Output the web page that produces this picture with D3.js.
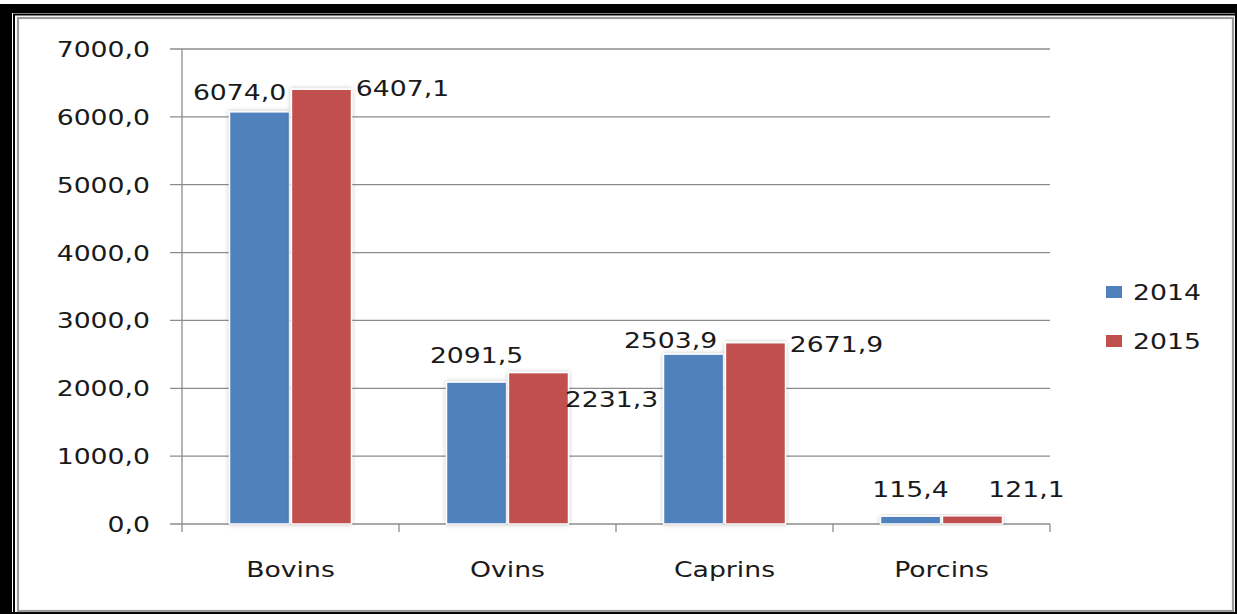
<!DOCTYPE html>
<html>
<head>
<meta charset="utf-8">
<script src="https://cdn.jsdelivr.net/npm/d3@7"></script>
<style>
  html, body { margin: 0; padding: 0; background: #fff; }
  svg { display: block; font-family: "DejaVu Sans", Verdana, sans-serif; }
</style>
</head>
<body>
<div id="chart"></div>
<script>
// Chart data
const categories = ["Bovins", "Ovins", "Caprins", "Porcins"];
const seriesNames = ["2014", "2015"];
const values2014 = [6074.0, 2091.5, 2503.9, 115.4];
const values2015 = [6407.1, 2231.3, 2671.9, 121.1];
const yTicks = [0, 1000, 2000, 3000, 4000, 5000, 6000, 7000];

// Manual label placement (offset from bar centre / bar top), as in the original
const LABEL_OFFSETS = {
  "2014": [[-20, -12], [0, -19], [-23, -6], [0, -19]],
  "2015": [[81, 7], [73, 34], [81, 9], [54, -19]],
};

const W = 1237, H = 614;
const COLORS = { "2014": "#4f81bd", "2015": "#c0504d" };
const STRETCH = 1.27; // the source image is stretched horizontally
const fmt = (v) => d3.format(".1f")(v).replace(".", ",");

const svg = d3.select("#chart").append("svg")
  .attr("width", W).attr("height", H)
  .attr("viewBox", `0 0 ${W} ${H}`);

const defs = svg.append("defs");
const shadow = defs.append("filter").attr("id", "shadow")
  .attr("x", "-20%").attr("y", "-20%").attr("width", "140%").attr("height", "140%");
shadow.append("feDropShadow")
  .attr("dx", 0).attr("dy", 0).attr("stdDeviation", 2)
  .attr("flood-color", "#000").attr("flood-opacity", 0.25);

svg.append("rect").attr("width", W).attr("height", H).attr("fill", "#fff");

// Page frame (document border)
svg.append("rect").attr("x", 0).attr("y", 4).attr("width", W).attr("height", 9).attr("fill", "#000");
svg.append("rect").attr("x", 0).attr("y", 4).attr("width", 12).attr("height", H - 4).attr("fill", "#000");
svg.append("rect").attr("x", W - 2).attr("y", 4).attr("width", 2).attr("height", H - 4).attr("fill", "#000");
svg.append("rect").attr("x", 0).attr("y", H - 2).attr("width", W).attr("height", 2).attr("fill", "#000");
svg.append("path").attr("d", `M14,${H} V14.5 H${W}`).attr("fill", "none").attr("stroke", "#000").attr("stroke-width", 2);
svg.append("rect").attr("x", 18).attr("y", 18).attr("width", 1215).attr("height", 593)
  .attr("fill", "none").attr("stroke", "#9a9a9a").attr("stroke-width", 2.2);

// Scales
const plot = { left: 182, right: 1050, top: 49, bottom: 524 };
const y = d3.scaleLinear().domain([0, 7000]).range([plot.bottom, plot.top]);
const x = d3.scaleBand().domain(categories).range([plot.left, plot.right]).padding(0);
const bw = x.bandwidth();
const x1 = d3.scaleBand().domain(seriesNames)
  .range([bw / 2 - 61, bw / 2 + 61]).paddingInner(0.03);

const axisColor = "#8c8c8c";
const textColor = "#1a1a1a";

// Gridlines and y ticks
svg.append("g").selectAll("line").data(yTicks).join("line")
  .attr("x1", plot.left - 12).attr("x2", plot.right)
  .attr("y1", (d) => y(d)).attr("y2", (d) => y(d))
  .attr("stroke", axisColor).attr("stroke-width", 1.3);

svg.append("line")
  .attr("x1", plot.left).attr("x2", plot.left)
  .attr("y1", plot.top).attr("y2", plot.bottom)
  .attr("stroke", axisColor).attr("stroke-width", 1.3);

// x ticks
const xTickPos = categories.map((c) => x(c)).concat([plot.right]);
svg.append("g").selectAll("line").data(xTickPos).join("line")
  .attr("x1", (d) => d).attr("x2", (d) => d)
  .attr("y1", plot.bottom).attr("y2", plot.bottom + 8)
  .attr("stroke", axisColor).attr("stroke-width", 1.3);

// y tick labels
svg.append("g").selectAll("text").data(yTicks).join("text")
  .attr("transform", (d) => `translate(150,${y(d) + 8}) scale(${STRETCH},1)`)
  .attr("text-anchor", "end")
  .attr("font-size", 21)
  .attr("fill", textColor)
  .text((d) => fmt(d));

// category labels
svg.append("g").selectAll("text").data(categories).join("text")
  .attr("transform", (d) => `translate(${x(d) + bw / 2},577) scale(${STRETCH},1)`)
  .attr("text-anchor", "middle")
  .attr("font-size", 21)
  .attr("fill", textColor)
  .text((d) => d);

// Bars
const rows = categories.map((c, i) => ({
  category: c,
  items: [
    { series: "2014", value: values2014[i], i },
    { series: "2015", value: values2015[i], i },
  ],
}));

const groups = svg.append("g").selectAll("g").data(rows).join("g")
  .attr("transform", (d) => `translate(${x(d.category)},0)`);

groups.selectAll("rect").data((d) => d.items).join("rect")
  .attr("x", (d) => x1(d.series))
  .attr("y", (d) => y(d.value))
  .attr("width", x1.bandwidth())
  .attr("height", (d) => y(0) - y(d.value))
  .attr("fill", (d) => COLORS[d.series])
  .attr("stroke", "#fff")
  .attr("stroke-width", 1.5)
  .attr("filter", "url(#shadow)");

// Value labels
groups.selectAll("text").data((d) => d.items).join("text")
  .attr("transform", (d) => {
    const [dx, dy] = LABEL_OFFSETS[d.series][d.i];
    const cx = x1(d.series) + x1.bandwidth() / 2 + dx;
    const cy = y(d.value) + dy;
    return `translate(${cx},${cy}) scale(${STRETCH},1)`;
  })
  .attr("text-anchor", "middle")
  .attr("font-size", 21)
  .attr("fill", textColor)
  .text((d) => fmt(d.value));

// Legend
const legend = svg.append("g").selectAll("g").data(seriesNames).join("g")
  .attr("transform", (d, i) => `translate(1106,${292 + i * 49})`);
legend.append("rect")
  .attr("x", 0).attr("y", -6).attr("width", 16).attr("height", 12)
  .attr("fill", (d) => COLORS[d]);
legend.append("text")
  .attr("transform", `translate(27,8) scale(${STRETCH},1)`)
  .attr("font-size", 21)
  .attr("fill", textColor)
  .text((d) => d);
</script>
</body>
</html>
